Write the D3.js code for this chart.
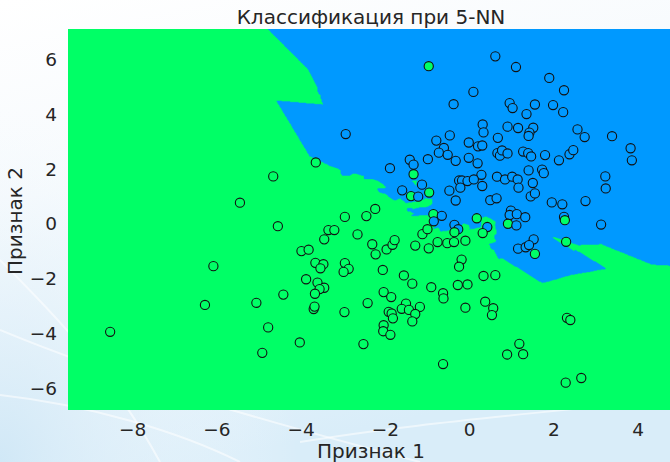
<!DOCTYPE html>
<html>
<head>
<meta charset="utf-8">
<script src="https://cdn.jsdelivr.net/npm/d3@7"></script>
<style>
  html, body { margin: 0; padding: 0; background: #fff; }
  svg { display: block; }
  text { font-family: "DejaVu Sans", sans-serif; fill: #262626; }
</style>
</head>
<body>
<svg id="chart" width="670" height="462"></svg>
<script>
// ---- data ----
const featureX = [
  -2.93,-3.64,-4.65,-5.44,-2.95,-4.54,-3.34,-3.20,-3.44,-2.65,-3.98,-3.81,-6.07,-3.65,-3.46,-3.53,-2.95,-2.86,-2.98,-3.87,
  -3.60,-3.44,-3.55,-3.66,-4.41,-5.05,-6.27,-3.69,-3.67,-2.96,-8.52,-4.77,-4.02,-4.91,-2.51,
  0.62,-0.96,1.11,1.90,2.25,0.10,-0.37,0.96,1.03,1.56,1.99,1.36,2.23,0.32,0.34,0.91,1.16,1.52,1.43,1.41,2.57,2.74,3.39,3.83,3.86,
  -0.46,0.68,-0.78,-0.01,0.21,0.31,-0.60,-0.72,-0.51,-0.01,-0.98,-0.32,0.20,0.67,0.73,0.78,0.91,1.28,1.40,1.47,1.80,2.13,2.38,2.47,
  -1.41,-1.32,-1.88,-1.32,1.41,1.73,1.77,3.23,3.24,0.29,0.66,0.85,1.02,1.15,1.17,1.51,1.46,1.56,
  -0.24,-0.17,-0.04,0.11,-0.21,0.31,-1.12,-1.59,-1.38,-1.21,-0.95,-0.47,-0.32,0.50,0.65,1.96,2.21,2.76,
  0.99,0.96,1.13,1.33,2.25,-0.85,-0.65,0.18,-2.44,-2.23,
  -0.84,-0.35,-0.26,-0.35,0.43,0.32,0.92,1.12,2.27,3.13,1.53,1.16,1.34,1.42,1.56,2.30,
  -2.30,-2.22,-1.96,-1.82,-1.77,-1.11,-0.99,-1.28,-0.96,-0.75,-0.52,-0.36,-0.09,-2.05,-0.18,-0.24,-1.55,-1.35,-0.90,0.34,0.62,
  -0.27,-0.04,-2.03,-1.85,-2.41,-0.62,-0.61,0.38,0.57,0.54,-0.09,-1.50,-1.60,-1.43,-1.17,-1.28,-1.35,-1.91,-1.84,-1.81,
  -2.03,-2.04,-1.87,-0.62,1.19,0.90,1.28,2.32,2.40,2.29,2.66
];
const featureY = [
  3.27,2.23,1.72,0.76,0.24,-0.10,-0.24,-0.24,-0.58,-0.40,-1.01,-0.96,-1.56,-1.44,-1.49,-1.64,-1.45,-1.66,-1.77,-2.04,
  -2.16,-2.35,-2.40,-2.57,-2.60,-2.90,-2.98,-3.13,-3.04,-3.24,-3.96,-3.80,-4.35,-4.73,-4.41,
  6.11,5.75,5.72,5.32,4.87,4.81,4.36,4.40,4.22,4.35,4.33,4.00,4.07,3.62,3.33,3.54,3.49,3.50,3.32,3.20,3.44,3.16,3.19,2.75,2.31,
  3.22,3.13,3.03,2.96,2.82,2.85,2.76,2.59,2.51,2.40,2.35,2.29,2.20,2.57,2.48,2.67,2.56,2.63,2.57,2.45,2.50,2.31,2.53,2.68,
  2.33,2.15,2.02,1.80,1.94,1.97,1.84,1.72,1.28,1.78,1.71,1.61,1.71,1.61,1.31,1.48,0.99,1.10,
  1.57,1.57,1.55,1.61,1.31,1.37,1.42,1.21,1.00,0.98,1.13,1.20,0.84,0.85,0.92,0.77,0.70,0.82,
  0.47,0.31,0.34,0.23,0.24,0.34,0.28,0.19,0.27,0.53,
  0.08,-0.05,-0.21,-0.32,-0.13,-0.35,-0.01,-0.07,0.12,-0.04,-0.58,-0.92,-0.87,-0.79,-1.11,-0.67,
  -0.76,-1.13,-0.95,-0.78,-0.61,-0.39,-0.21,-0.81,-0.91,-0.68,-0.72,-0.68,-0.63,-1.70,-1.32,-1.58,-1.90,-2.20,-2.33,-1.92,-1.89,
  -2.25,-2.23,-2.51,-2.69,-2.91,-2.55,-2.74,-2.86,-3.10,-3.35,-3.08,-2.93,-3.12,-3.16,-3.05,-3.31,-3.58,-3.23,-3.29,-3.47,
  -3.72,-3.94,-4.07,-5.14,-4.40,-4.79,-4.78,-3.45,-3.53,-5.82,-5.65
];
// class of each point: 0 = green, 1 = blue
const classLabel = [
  1,0,0,0,0,0,0,0,0,0,0,0,0,0,0,0,0,0,0,0,
  0,0,0,0,0,0,0,0,0,0,0,0,0,0,0,
  1,0,1,1,1,1,1,1,1,1,1,1,1,1,1,1,1,1,1,1,1,1,1,1,1,
  1,1,1,1,1,1,1,1,1,1,1,1,1,1,1,1,1,1,1,1,1,1,1,1,
  1,1,1,0,1,1,1,1,1,1,1,1,1,1,1,1,1,1,
  1,1,1,1,1,1,1,1,0,1,0,1,1,1,1,1,1,1,
  1,1,1,1,1,0,1,0,0,0,
  1,1,1,0,1,0,0,1,0,1,1,1,1,1,0,0,
  0,0,0,0,0,0,0,0,0,0,0,0,0,0,0,0,0,0,0,0,0,
  0,0,0,0,0,0,0,0,0,0,0,0,0,0,0,0,0,0,0,0,
  0,0,0,0,0,0,0,0,0,0,0
];
const classColors = ["#00ff66", "#0099ff"];
const kNeighbors = 5;
const xTickValues = [-8, -6, -4, -2, 0, 2, 4];
const yTickValues = [-6, -4, -2, 0, 2, 4, 6];
const titleText = "Классификация при 5-NN";
const xLabelText = "Признак 1";
const yLabelText = "Признак 2";

// ---- layout ----
const W = 670, H = 462;
const plot = { left: 68, right: 674, top: 29, bottom: 410 };

const svg = d3.select("#chart");
const defs = svg.append("defs");

// decorative background
const bg = defs.append("linearGradient").attr("id", "bgGrad")
  .attr("x1", 0).attr("y1", 0).attr("x2", 0.3).attr("y2", 1);
bg.append("stop").attr("offset", "0%").attr("stop-color", "#ffffff");
bg.append("stop").attr("offset", "40%").attr("stop-color", "#f6fafd");
bg.append("stop").attr("offset", "100%").attr("stop-color", "#d9edf9");
svg.append("rect").attr("width", W).attr("height", H).attr("fill", "url(#bgGrad)");
const side = defs.append("radialGradient").attr("id", "sideGrad")
  .attr("cx", 0).attr("cy", 1).attr("r", 1);
side.append("stop").attr("offset", "0%").attr("stop-color", "#cfe7f6").attr("stop-opacity", 0.9);
side.append("stop").attr("offset", "100%").attr("stop-color", "#ffffff").attr("stop-opacity", 0);
svg.append("rect").attr("x", 0).attr("y", 60).attr("width", 300).attr("height", 402).attr("fill", "url(#sideGrad)");
const swooshes = [
  "M0,330 C120,380 260,420 420,462",
  "M0,395 C90,405 180,432 240,462",
  "M300,442 C420,422 560,412 670,398",
  "M0,260 C50,310 110,370 160,462"
];
svg.selectAll("path.sw").data(swooshes).join("path")
  .attr("class", "sw").attr("d", d => d)
  .attr("fill", "none").attr("stroke", "#ffffff").attr("stroke-opacity", 0.55).attr("stroke-width", 2);

// ---- scales ----
const xExt = d3.extent(featureX), yExt = d3.extent(featureY);
const x0 = xExt[0] - 1, x1 = xExt[1] + 1, y0 = yExt[0] - 1, y1 = yExt[1] + 1;
const xScale = d3.scaleLinear().domain([x0, x1]).range([plot.left, plot.right]);
const yScale = d3.scaleLinear().domain([y0, y1]).range([plot.bottom, plot.top]);

defs.append("clipPath").attr("id", "plotClip").append("rect")
  .attr("x", plot.left).attr("y", plot.top)
  .attr("width", plot.right - plot.left).attr("height", plot.bottom - plot.top);

// ---- k-NN decision surface on a grid ----
const h = 0.025;
const nx = Math.ceil((x1 - x0) / h), ny = Math.ceil((y1 - y0) / h);
const grid = new Float64Array(nx * ny);
const n = featureX.length;
const bestD = new Float64Array(kNeighbors), bestL = new Int32Array(kNeighbors);
for (let j = 0; j < ny; j++) {
  const gy = y0 + (j + 0.5) * h;
  for (let i = 0; i < nx; i++) {
    const gx = x0 + (i + 0.5) * h;
    bestD.fill(Infinity);
    for (let p = 0; p < n; p++) {
      const dx = featureX[p] - gx, dy = featureY[p] - gy;
      const d = dx * dx + dy * dy;
      if (d < bestD[kNeighbors - 1]) {
        let q = kNeighbors - 1;
        while (q > 0 && bestD[q - 1] > d) { bestD[q] = bestD[q - 1]; bestL[q] = bestL[q - 1]; q--; }
        bestD[q] = d; bestL[q] = classLabel[p];
      }
    }
    let votes = 0;
    for (let q = 0; q < kNeighbors; q++) votes += bestL[q];
    grid[j * nx + i] = votes * 2 > kNeighbors ? 1 : 0;
  }
}
const contours = d3.contours().size([nx, ny]).thresholds([0.5])(grid);
const proj = d3.geoTransform({
  point: function (gx, gy) { this.stream.point(xScale(x0 + gx * h), yScale(y0 + gy * h)); }
});
const pathGen = d3.geoPath(proj);

const area = svg.append("g").attr("clip-path", "url(#plotClip)");
area.append("rect")
  .attr("x", plot.left).attr("y", plot.top)
  .attr("width", plot.right - plot.left).attr("height", plot.bottom - plot.top)
  .attr("fill", classColors[0]);
area.selectAll("path.region").data(contours).join("path")
  .attr("class", "region").attr("d", pathGen)
  .attr("fill", classColors[1]).attr("stroke", classColors[1]).attr("stroke-width", 0.5);

// ---- points ----
const idx = d3.range(n);
area.selectAll("circle.pt").data(idx).join("circle")
  .attr("class", "pt")
  .attr("cx", i => xScale(featureX[i]))
  .attr("cy", i => yScale(featureY[i]))
  .attr("r", 4.6)
  .attr("fill", i => classColors[classLabel[i]])
  .attr("stroke", "#111").attr("stroke-width", 1.1);

// ---- axes ----
const fmt = d => d3.format("d")(d).replace("-", "\u2212");
const xAxis = d3.axisBottom(xScale).tickValues(xTickValues).tickSize(0).tickPadding(0).tickFormat(fmt);
const gx = svg.append("g").attr("transform", `translate(0,${plot.bottom})`).call(xAxis);
gx.select(".domain").remove();
gx.selectAll("text").attr("dy", null).attr("y", 25.5).attr("font-size", 18.5)
  .attr("font-family", "DejaVu Sans").attr("fill", "#262626");

const yAxis = d3.axisLeft(yScale).tickValues(yTickValues).tickSize(0).tickPadding(0).tickFormat(fmt);
const gy = svg.append("g").attr("transform", `translate(${plot.left},0)`).call(yAxis);
gy.select(".domain").remove();
gy.selectAll("text").attr("x", -11).attr("dy", "0.35em").attr("font-size", 18.5)
  .attr("font-family", "DejaVu Sans").attr("fill", "#262626");

// ---- titles ----
svg.append("text").attr("x", 371).attr("y", 24).attr("text-anchor", "middle")
  .attr("font-size", 20).text(titleText);
svg.append("text").attr("x", 371).attr("y", 458).attr("text-anchor", "middle")
  .attr("font-size", 20).text(xLabelText);
svg.append("text").attr("transform", "translate(22,221) rotate(-90)").attr("text-anchor", "middle")
  .attr("font-size", 20).text(yLabelText);
</script>
</body>
</html>
